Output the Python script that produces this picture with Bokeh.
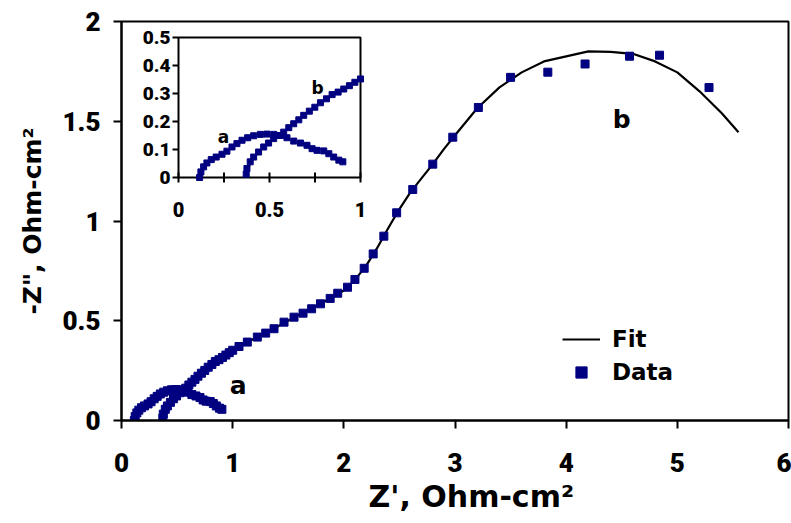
from bokeh.plotting import figure
from bokeh.models import Range1d, FixedTicker, Legend, LegendItem, Title
from bokeh.core.properties import value
from bokeh.embed import file_html
from bokeh.resources import INLINE

# ---------------- data ----------------
# curve a (data only)
a_x = [0.116, 0.123, 0.138, 0.156, 0.18, 0.207, 0.239, 0.266, 0.294, 0.321,
       0.349, 0.38, 0.413, 0.45, 0.486, 0.523, 0.56, 0.596, 0.633, 0.67,
       0.706, 0.734, 0.761, 0.798, 0.826, 0.853, 0.881, 0.903]
a_y = [0.0, 0.02, 0.038, 0.052, 0.064, 0.073, 0.083, 0.094, 0.109, 0.121,
       0.133, 0.142, 0.149, 0.154, 0.155, 0.154, 0.15, 0.142, 0.13, 0.123,
       0.115, 0.103, 0.097, 0.095, 0.085, 0.073, 0.062, 0.056]

# curve b (data)
b_x = [0.372, 0.376, 0.394, 0.413, 0.44, 0.468, 0.495, 0.523, 0.55, 0.578,
       0.606, 0.633, 0.661, 0.688, 0.719, 0.749, 0.78, 0.813, 0.844, 0.877,
       0.908, 0.939, 0.969, 1.0, 1.057, 1.132, 1.222, 1.297, 1.372, 1.462,
       1.552, 1.633, 1.71, 1.79, 1.877, 1.945, 2.033, 2.10, 2.183, 2.264,
       2.36, 2.475, 2.62, 2.80, 2.98, 3.21, 3.50, 3.835, 4.17, 4.57,
       4.84, 5.285]
b_y = [0.012, 0.032, 0.056, 0.073, 0.091, 0.109, 0.123, 0.139, 0.15, 0.162,
       0.178, 0.192, 0.206, 0.222, 0.237, 0.251, 0.267, 0.281, 0.296, 0.305,
       0.316, 0.328, 0.34, 0.352, 0.371, 0.393, 0.418, 0.438, 0.46, 0.493,
       0.518, 0.538, 0.56, 0.585, 0.612, 0.638, 0.668, 0.707, 0.763, 0.835,
       0.924, 1.041, 1.158, 1.285, 1.42, 1.569, 1.72, 1.746, 1.787, 1.826,
       1.831, 1.669]

# curve b (fit)
fit_x = [0.37, 0.40, 0.45, 0.5, 0.6, 0.7, 0.8, 0.9, 1.0, 1.2, 1.4, 1.6, 1.8,
         2.0, 2.1, 2.2, 2.3, 2.4, 2.5, 2.6, 2.7, 2.8, 2.9, 3.0, 3.2, 3.4,
         3.6, 3.8, 4.0, 4.2, 4.4, 4.6, 4.8, 5.0, 5.2, 5.4, 5.55]
fit_y = [0.0, 0.06, 0.097, 0.127, 0.175, 0.228, 0.275, 0.313, 0.352, 0.412,
         0.47, 0.53, 0.588, 0.652, 0.705, 0.775, 0.865, 0.965, 1.06, 1.145,
         1.215, 1.285, 1.36, 1.43, 1.565, 1.67, 1.745, 1.80, 1.825, 1.85,
         1.848, 1.838, 1.80, 1.745, 1.65, 1.54, 1.445]

x_ticks = [0, 1, 2, 3, 4, 5, 6]
y_ticks = [0, 0.5, 1, 1.5, 2]
inset_x_ticks = [0, 0.25, 0.5, 0.75, 1]
inset_x_label_pos = [0, 0.5, 1]
inset_x_labels = ["0", "0.5", "1"]
inset_y_ticks = [0, 0.1, 0.2, 0.3, 0.4, 0.5]
inset_y_labels = ["0", "0.1", "0.2", "0.3", "0.4", "0.5"]

x_title = "Z', Ohm-cm\u00b2"
y_title = "-Z\", Ohm-cm\u00b2"

# ---------------- layout ----------------
W, H = 791, 523
FL, FR, FT, FB = 121, 788, 21, 420      # main frame edges (px)
IL, IR, IT, IB = 178, 360, 37, 177      # inset box edges (px)
X_TITLE_LEFT = 368                      # left edge of x-axis title (px)

NAVY = "#000080"
NUM_FONT = "Roboto Black, Arial Black, Liberation Sans, Arial"
TXT_FONT = "DejaVu Sans"

p = figure(width=W, height=H, x_range=Range1d(0, 6), y_range=Range1d(0, 2),
           output_backend="svg", toolbar_location=None,
           min_border_left=FL, min_border_right=W - FR,
           min_border_top=FT, min_border_bottom=H - FB)
p.background_fill_color = "white"
p.border_fill_color = "white"
p.outline_line_color = "black"
p.outline_line_width = 2
p.grid.visible = False

for ax in (p.xaxis, p.yaxis):
    ax.axis_line_width = 2
    ax.axis_line_color = "black"
    ax.major_tick_line_width = 2
    ax.major_tick_out = 8
    ax.major_tick_in = 0
    ax.minor_tick_out = 0
    ax.minor_tick_in = 0
    ax.major_label_text_font = NUM_FONT
    ax.major_label_text_font_style = "bold"
    ax.major_label_text_font_size = "26px"
    ax.major_label_text_color = "black"
    ax.axis_label_text_font = TXT_FONT
    ax.axis_label_text_font_style = "bold"
    ax.axis_label_text_color = "black"

p.xaxis.ticker = FixedTicker(ticks=x_ticks)
p.yaxis.ticker = FixedTicker(ticks=y_ticks)
p.xaxis.major_label_standoff = 24
p.yaxis.major_label_standoff = 13
p.yaxis.axis_label = y_title
p.yaxis.axis_label_text_font_size = "25px"
p.yaxis.axis_label_standoff = 12

xt = Title(text=x_title, align="left", offset=X_TITLE_LEFT - FL, standoff=4,
           text_font=TXT_FONT, text_font_style="bold", text_font_size="30px",
           text_color="black")
p.add_layout(xt, "below")

# main series
fit_r = p.line(fit_x, fit_y, line_color="black", line_width=2.2)
b_r = p.scatter(b_x, b_y, marker="square", size=8, fill_color=NAVY, line_color=NAVY)
p.scatter(a_x, a_y, marker="square", size=8, fill_color=NAVY, line_color=NAVY)

p.text(x=[1.05, 4.5], y=[0.175, 1.51], text=["a", "b"],
       text_font=value(TXT_FONT), text_font_style="bold", text_font_size="25px",
       text_align="center", text_baseline="middle", text_color="black")

# ---------------- inset via extra scales ----------------
ppx = (IR - IL) / 1.0
ppy = (IB - IT) / 0.5
ix0 = -(IL - FL) / ppx
iy0 = -(FB - IB) / ppy
p.extra_x_ranges = {"ix": Range1d(ix0, ix0 + (FR - FL) / ppx)}
p.extra_y_ranges = {"iy": Range1d(iy0, iy0 + (FB - FT) / ppy)}
I = dict(x_range_name="ix", y_range_name="iy")

p.quad(left=[0], right=[1], bottom=[0], top=[0.5], fill_color="white",
       line_color="black", line_width=2, **I)

tick_h = 5 / ppy
p.segment(x0=inset_x_ticks, y0=[-tick_h] * len(inset_x_ticks),
          x1=inset_x_ticks, y1=[tick_h] * len(inset_x_ticks),
          line_color="black", line_width=2, **I)
tick_w = 6 / ppx
p.segment(x0=[-tick_w] * len(inset_y_ticks), y0=inset_y_ticks,
          x1=[0] * len(inset_y_ticks), y1=inset_y_ticks,
          line_color="black", line_width=2, **I)

p.text(x=inset_x_label_pos, y=[0] * 3, text=inset_x_labels, y_offset=24,
       text_font=value(NUM_FONT), text_font_style="bold", text_font_size="20px",
       text_align="center", text_baseline="top", text_color="black", **I)
p.text(x=[0] * len(inset_y_ticks), y=inset_y_ticks, text=inset_y_labels, x_offset=-8,
       text_font=value(NUM_FONT), text_font_style="bold", text_font_size="19px",
       text_align="right", text_baseline="middle", text_color="black", **I)

ib_x = [x for x, y in zip(b_x, b_y) if x <= 1.0 and y <= 0.5]
ib_y = [y for x, y in zip(b_x, b_y) if x <= 1.0 and y <= 0.5]
if_x = [x for x in fit_x if x <= 1.0]
if_y = [y for x, y in zip(fit_x, fit_y) if x <= 1.0]

p.line(if_x, if_y, line_color="black", line_width=1.5, **I)
p.scatter(ib_x, ib_y, marker="square", size=6, fill_color=NAVY, line_color=NAVY, **I)
p.scatter(a_x, a_y, marker="square", size=6, fill_color=NAVY, line_color=NAVY, **I)

p.text(x=[0.247, 0.764], y=[0.143, 0.318], text=["a", "b"],
       text_font=value(TXT_FONT), text_font_style="bold", text_font_size="17px",
       text_align="center", text_baseline="middle", text_color="black", **I)

# ---------------- legend ----------------
legend = Legend(items=[LegendItem(label="Fit", renderers=[fit_r]),
                       LegendItem(label="Data", renderers=[b_r])],
                location=(441, 34), glyph_width=38, glyph_height=28,
                label_height=28, spacing=5, padding=0, margin=0,
                label_standoff=12, border_line_color=None,
                background_fill_alpha=0,
                label_text_font=TXT_FONT, label_text_font_style="bold",
                label_text_font_size="23px", label_text_color="black")
p.add_layout(legend)

open("out.html", "w").write(file_html(p, INLINE))
